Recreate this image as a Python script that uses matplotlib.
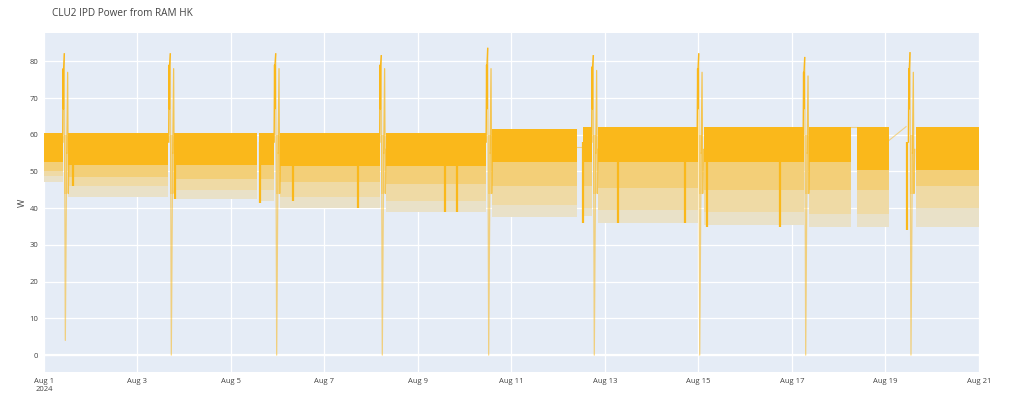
import numpy as np
import matplotlib
matplotlib.use('Agg')
import matplotlib.pyplot as plt

# ---------------- data (days since 2024-08-01, values in W) ----------------
START = np.datetime64('2024-08-01T00:00')

# continuous dense-band segments
seg_start = [0.00, 0.52, 2.78, 4.60, 5.05, 7.32, 9.58, 11.52, 11.84, 14.11, 16.36, 17.40, 18.65]
seg_end = [0.41, 2.66, 4.556, 4.93, 7.19, 9.465, 11.41, 11.72, 13.98, 16.25, 17.26, 18.07, 20.00]
seg_top = [60.5, 60.5, 60.5, 60.5, 60.5, 60.5, 61.5, 62.0, 62.0, 62.0, 62.0, 62.0, 62.0]
seg_solid_bot = [52.5, 51.8, 51.8, 51.8, 51.6, 51.6, 52.5, 52.5, 52.5, 52.5, 52.5, 50.5, 50.5]
seg_mid_bot = [50.0, 48.5, 48.0, 48.0, 47.0, 46.5, 46.0, 46.0, 45.5, 45.0, 45.0, 45.0, 46.0]
seg_light_bot = [48.8, 46.0, 45.0, 45.0, 43.0, 42.0, 41.0, 40.0, 39.5, 39.0, 38.5, 38.5, 40.0]
seg_streak_bot = [47.0, 43.0, 42.5, 42.0, 40.0, 39.0, 37.5, 38.0, 36.0, 35.5, 35.0, 35.0, 35.0]

# periodic excursion events
spike_day = [0.456, 2.723, 4.977, 7.236, 9.512, 11.771, 14.026, 16.293, 18.545]
spike_peak = [82.0, 82.0, 82.0, 81.5, 83.5, 81.5, 82.0, 81.0, 82.3]
spike_second = [77.0, 78.0, 78.0, 78.0, 78.0, 77.5, 77.0, 76.0, 77.0]
spike_min = [4.0, 0.0, 0.0, 0.0, 0.0, 0.0, 0.0, 0.0, 0.0]

# deep dips inside the band
dip_day = [0.62, 2.80, 4.62, 5.33, 6.72, 8.58, 8.83, 11.53, 12.28, 13.71, 14.18, 15.74, 18.46]
dip_val = [46.0, 42.5, 41.5, 42.0, 40.0, 39.0, 39.0, 36.0, 36.0, 36.0, 35.0, 35.0, 34.0]

# connecting lines across data gaps
conn_x0 = [11.41, 17.26, 18.07]
conn_y0 = [56.7, 62.0, 58.4]
conn_x1 = [11.52, 17.40, 18.44]
conn_y1 = [56.7, 62.0, 62.2]

# ---------------- plotting ----------------
LINE = '#FAB81B'
MID = '#F3CF78'
LIGHT = '#EFDAA5'
FAINT = '#E9E1C8'
BG = '#E5ECF6'
TXT = '#444444'
plt.rcParams['font.family'] = ['Open Sans', 'DejaVu Sans']


def d2t(days):
    return START + (np.asarray(days, dtype=float) * 86400).astype('timedelta64[s]')


fig = plt.figure(figsize=(10.24, 4.16), dpi=100)
ax = fig.add_axes([44 / 1024, 1 - 372 / 416, (979 - 44) / 1024, (372 - 33) / 416])
ax.set_facecolor(BG)
for s in ax.spines.values():
    s.set_visible(False)

for i in range(len(seg_start)):
    xs = d2t([seg_start[i], seg_end[i]])
    ax.fill_between(xs, [seg_streak_bot[i]] * 2, [seg_light_bot[i]] * 2,
                    color=FAINT, lw=0, zorder=2)
    ax.fill_between(xs, [seg_light_bot[i]] * 2, [seg_mid_bot[i]] * 2,
                    color=LIGHT, lw=0, zorder=2)
    ax.fill_between(xs, [seg_mid_bot[i]] * 2, [seg_solid_bot[i]] * 2,
                    color=MID, lw=0, zorder=2)
    ax.fill_between(xs, [seg_solid_bot[i]] * 2, [seg_top[i]] * 2,
                    color=LINE, lw=0, zorder=3)

# dips
for d, v in zip(dip_day, dip_val):
    t = d2t([d, d])
    ax.plot(t, [v, 58], color=LINE, lw=1.6, zorder=3, solid_capstyle='butt')

# connectors
for x0, y0, x1, y1 in zip(conn_x0, conn_y0, conn_x1, conn_y1):
    ax.plot(d2t([x0, x1]), [y0, y1], color=LINE, lw=0.8, alpha=0.5, zorder=3)

# excursion events
for d, pk, sec, mn in zip(spike_day, spike_peak, spike_second, spike_min):
    off = np.array([-0.055, -0.045, -0.040, -0.036, -0.021, 0.0, 0.03, 0.05, 0.064, 0.08])
    ys = [58, sec + 1, 67, sec + 1, pk, mn, 55, sec, 44, 56]
    ax.fill_between(d2t([d - 0.025, d + 0.045]), [44, 44], [60, 60],
                    color=LIGHT, lw=0, zorder=3.5)
    ax.plot(d2t(d + off[:5]), ys[:5], color=LINE, lw=1.0, zorder=4)
    ax.plot(d2t(d + off[4:7]), ys[4:7], color=LINE, lw=0.9, alpha=0.55, zorder=4)
    ax.plot(d2t(d + off[6:]), ys[6:], color=LINE, lw=0.9, alpha=0.75, zorder=4)

# axes
ax.set_xlim(d2t([0.0, 20.0]))
ax.set_ylim(-4.6, 87.7)
ax.set_yticks(np.arange(0, 81, 10))
tick_days = np.arange(0, 21, 2)
ax.set_xticks(d2t(tick_days))
labels = []
for k, t in enumerate(tick_days):
    lab = 'Aug %d' % (1 + t)
    if k == 0:
        lab += '\n2024'
    labels.append(lab)
ax.set_xticklabels(labels)
ax.grid(True, color='white', lw=0.9, zorder=1)
ax.set_axisbelow(True)
ax.axhline(0, color='white', lw=1.6, zorder=1.5)
ax.tick_params(length=0, labelsize=5.5, colors=TXT, pad=4)
ax.set_ylabel('W', color=TXT, fontsize=6.5, labelpad=2)

fig.text(52 / 1024, 1 - 14 / 416, 'CLU2 IPD Power from RAM HK', fontsize=7.2,
         color=TXT, va='center', ha='left')

fig.savefig('out.png', dpi=100, facecolor='white')
